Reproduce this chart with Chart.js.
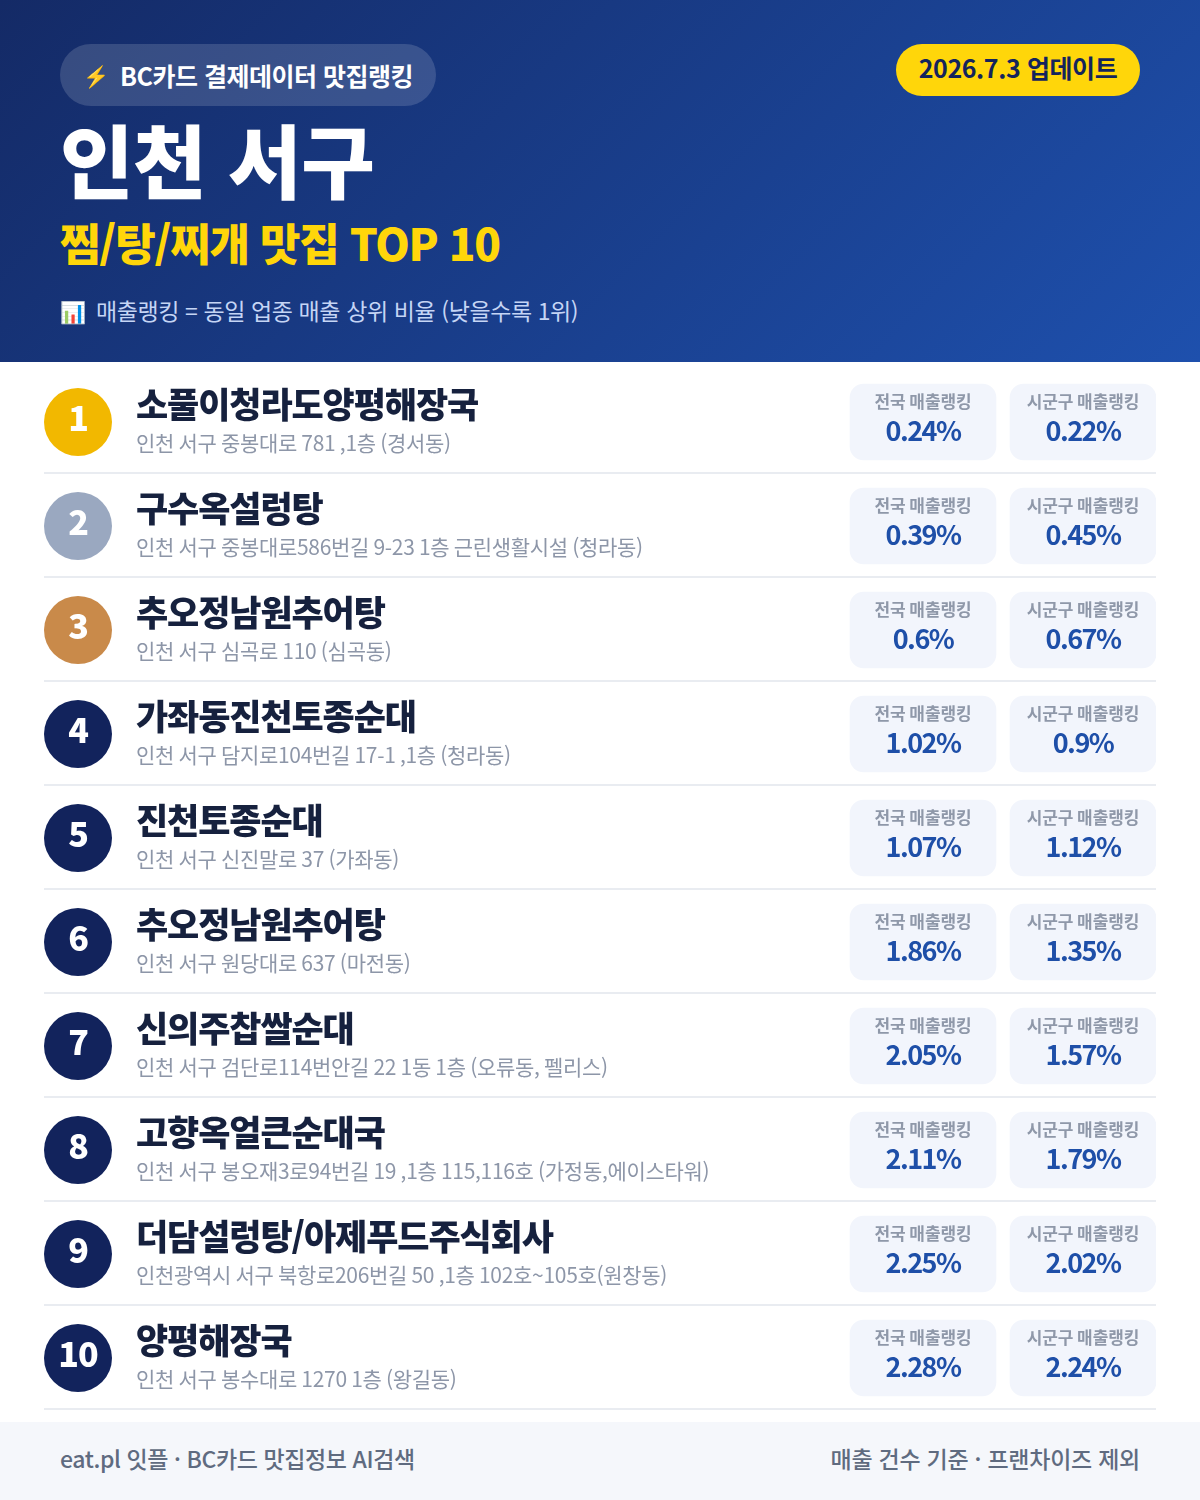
<!DOCTYPE html>
<html lang="ko">
<head>
<meta charset="utf-8">
<title>인천 서구 찜/탕/찌개 맛집 TOP 10</title>
<script src="https://cdn.jsdelivr.net/npm/chart.js@4"></script>
<style>
html, body { margin: 0; padding: 0; background: #fff; }
body { width: 1200px; height: 1500px; overflow: hidden; position: relative; font-family: "Noto Sans CJK KR", "Noto Sans", sans-serif; }
#head { position: absolute; left: 0; top: 0; width: 1200px; height: 362px; background: linear-gradient(135deg, #142a66 0%, #1e50ad 100%); }
#head div, #foot div { position: absolute; white-space: nowrap; }
#pill { left: 60px; top: 44px; width: 376px; height: 62px; border-radius: 31px; background: rgba(255,255,255,.15); }
#pill-icon { left: 83px; top: 58px; font-size: 21px; line-height: 34px; color: #ffd60a; }
#pill-text { left: 120px; top: 57px; font-size: 25px; line-height: 36px; font-weight: 700; color: #fff; letter-spacing: -0.5px; }
#date { left: 896px; top: 43px; width: 244px; height: 52px; border-radius: 26px; color: #14245c; font-size: 25px; font-weight: 700; line-height: 48px; text-align: center; letter-spacing: -0.4px; }
#date-bg { left: 896px; top: 44px; width: 244px; height: 52px; border-radius: 26px; background: #ffd60a; }
#title { left: 60px; top: 102px; font-size: 80px; line-height: 110px; font-weight: 900; color: #fff; letter-spacing: -0.5px; }
#sub { left: 60px; top: 210px; font-size: 44px; line-height: 64px; font-weight: 800; color: #ffd60a; letter-spacing: -1.2px; }
#note-icon { left: 60px; top: 296px; font-size: 21px; line-height: 30px; }
#note { left: 96px; top: 293px; font-size: 23px; line-height: 34px; color: #c5d5f5; letter-spacing: -0.4px; }
#list { position: absolute; left: 0; top: 362px; }
#foot { position: absolute; left: 0; top: 1422px; width: 1200px; height: 78px; background: #f5f7fb; color: #5f6b80; font-size: 23px; font-weight: 500; line-height: 72px; letter-spacing: -0.4px; }
</style>
</head>
<body>
<div id="head">
  <div id="pill"></div>
  <div id="pill-icon">⚡</div>
  <div id="pill-text">BC카드 결제데이터 맛집랭킹</div>
  <div id="date-bg"></div>
  <div id="date">2026.7.3 업데이트</div>
  <div id="title">인천 서구</div>
  <div id="sub">찜/탕/찌개 맛집 TOP 10</div>
  <div id="note-icon">📊</div>
  <div id="note">매출랭킹 = 동일 업종 매출 상위 비율 (낮을수록 1위)</div>
</div>
<canvas id="list" width="1200" height="1060"></canvas>
<div id="foot">
  <div style="left:60px">eat.pl 잇플 · BC카드 맛집정보 AI검색</div>
  <div style="right:60px;letter-spacing:-0.25px">매출 건수 기준 · 프랜차이즈 제외</div>
</div>
<script>
var ranks = ['1','2','3','4','5','6','7','8','9','10'];
var names = ['소풀이청라도양평해장국','구수옥설렁탕','추오정남원추어탕','가좌동진천토종순대','진천토종순대','추오정남원추어탕','신의주찹쌀순대','고향옥얼큰순대국','더담설렁탕/아제푸드주식회사','양평해장국'];
var addresses = [
    '인천 서구 중봉대로 781 ,1층 (경서동)',
    '인천 서구 중봉대로586번길 9-23 1층 근린생활시설 (청라동)',
    '인천 서구 심곡로 110 (심곡동)',
    '인천 서구 담지로104번길 17-1 ,1층 (청라동)',
    '인천 서구 신진말로 37 (가좌동)',
    '인천 서구 원당대로 637 (마전동)',
    '인천 서구 검단로114번안길 22 1동 1층 (오류동, 펠리스)',
    '인천 서구 봉오재3로94번길 19 ,1층 115,116호 (가정동,에이스타워)',
    '인천광역시 서구 북항로206번길 50 ,1층 102호~105호(원창동)',
    '인천 서구 봉수대로 1270 1층 (왕길동)'
];
var nationalRank = [0.24, 0.39, 0.6, 1.02, 1.07, 1.86, 2.05, 2.11, 2.25, 2.28];
var sigunguRank = [0.22, 0.45, 0.67, 0.9, 1.12, 1.35, 1.57, 1.79, 2.02, 2.24];
var nationalLabel = '전국 매출랭킹';
var sigunguLabel = '시군구 매출랭킹';

// page columns, x scale runs in page pixels
var badgeX = 78, textX = 136, nationalX = 923, sigunguX = 1083, cardHalf = 73;
var badgeColors = ['#f2b800', '#9aa8c0', '#c98a4a', '#12235c', '#12235c', '#12235c', '#12235c', '#12235c', '#12235c', '#12235c'];
var FONT = '"Noto Sans CJK KR", "Noto Sans", sans-serif';

function text(ctx, str, x, y, font, color, align, spacing){
    ctx.font = font + ' ' + FONT;
    ctx.fillStyle = color;
    ctx.textAlign = align;
    ctx.textBaseline = 'middle';
    ctx.letterSpacing = spacing || '0px';
    ctx.fillText(str, x, y);
}

var rowText = {
    id: 'rowText',
    beforeDatasetsDraw: function(chart){
        var ctx = chart.ctx, s = chart.scales;
        ctx.save();
        ctx.fillStyle = '#e9ecf1';
        ranks.forEach(function(r){
            ctx.fillRect(s.x.left, s.y.getPixelForValue(r) + 50, s.x.right - s.x.left, 2);
        });
        ctx.restore();
    },
    afterDatasetsDraw: function(chart){
        var ctx = chart.ctx, s = chart.scales;
        ctx.save();
        ranks.forEach(function(r, i){
            var y = s.y.getPixelForValue(r);
            text(ctx, r, s.x.getPixelForValue(badgeX), y - 4, '800 34px', '#fff', 'center', '-1px');
            text(ctx, names[i], s.x.getPixelForValue(textX), y - 17, '900 35px', '#16213e', 'left', '-1.1px');
            text(ctx, addresses[i], s.x.getPixelForValue(textX), y + 21, '400 21px', '#8d96a8', 'left', '-0.3px');
            text(ctx, nationalLabel, s.x.getPixelForValue(nationalX), y - 20, '700 17px', '#8f98a9', 'center', '-0.1px');
            text(ctx, sigunguLabel, s.x.getPixelForValue(sigunguX), y - 20, '700 17px', '#8f98a9', 'center', '-0.1px');
            text(ctx, nationalRank[i] + '%', s.x.getPixelForValue(nationalX), y + 9, '600 27px', '#1e4fa8', 'center', '-1.5px');
            text(ctx, sigunguRank[i] + '%', s.x.getPixelForValue(sigunguX), y + 9, '600 27px', '#1e4fa8', 'center', '-1.5px');
        });
        ctx.restore();
    }
};

function cardDataset(label, x){
    return {
        label: label,
        data: ranks.map(function(){ return [x - cardHalf, x + cardHalf]; }),
        backgroundColor: '#f2f5fc',
        borderRadius: 14,
        borderSkipped: false,
        barThickness: 76,
        grouped: false
    };
}

var myChart = new Chart(document.getElementById('list'), {
    type: 'bar',
    data: {
        labels: ranks,
        datasets: [
            cardDataset(nationalLabel, nationalX),
            cardDataset(sigunguLabel, sigunguX),
            {
                type: 'line',
                label: '순위',
                indexAxis: 'y',
                showLine: false,
                data: ranks.map(function(r){ return { x: badgeX, y: r }; }),
                pointRadius: 34,
                pointHoverRadius: 34,
                pointBorderWidth: 0,
                pointBackgroundColor: badgeColors
            }
        ]
    },
    options: {
        indexAxis: 'y',
        responsive: false,
        animation: false,
        devicePixelRatio: 1,
        layout: { autoPadding: false, padding: { left: 44, right: 44, top: 8, bottom: 12 } },
        scales: {
            x: { type: 'linear', min: 44, max: 1156, display: false },
            y: { type: 'category', display: false }
        },
        plugins: { legend: { display: false }, tooltip: { enabled: false } }
    },
    plugins: [rowText]
});
</script>
</body>
</html>
